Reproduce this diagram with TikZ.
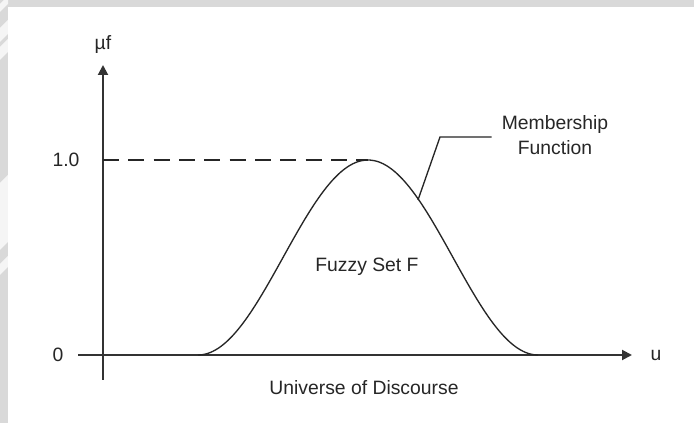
\documentclass[tikz,border=0pt]{standalone}
\usepackage{fontspec}
\setmainfont{Liberation Sans}
\usetikzlibrary{arrows.meta}

\tikzset{
  axis/.style={line width=1.5pt, draw=black!80, -{Triangle[length=7.5pt,width=7.5pt]}},
  curve/.style={line width=1pt, draw=black!85},
  lbl/.style={font=\fontsize{14.5}{18.5}\selectfont, text=black!85, inner sep=0pt},
  streak/.style={fill=black!4},
}

\begin{document}
\begin{tikzpicture}[x=0.75pt,y=-0.75pt]
    \useasboundingbox (0,0) rectangle (694,423);
    \fill[black!15] (0,0) rectangle (694,423);
    % light streaks in the frame
    \foreach \ya/\yb in {12/4, 42/28, 60/47, 250/183, 275/264}
        \fill[streak] (0,\ya) -- (0,\yb) -- (8,\yb-8) -- (8,\ya-8) -- cycle;
    \fill[white] (8,7) rectangle (694,423);
    % axes
    \coordinate (ybot) at (103,380);
    \coordinate (ytop) at (103,65);
    \coordinate (xleft) at (78,355);
    \coordinate (xright) at (632,355);
    \draw[axis] (ybot) -- (ytop);
    \draw[axis] (xleft) -- (xright);
    \node[lbl] (mu) at (103,45) {µf};
    \node[lbl] (uu) at (656,355) {u};
    \node[lbl] (zero) at (58,355) {0};
    \node[lbl] (one) at (66,160) {1.0};
    % membership curve
    \coordinate (top) at (103,160);
    \coordinate (peak) at (368,160);
    \draw[curve, dash pattern=on 12pt off 7pt] (top) -- (peak);
    \draw[curve] plot[domain=-170:170, samples=80, smooth] ({368+\x}, {355-97.5*(1+cos(\x/170*180))});
    \node[lbl] (fset) at (367,267) {Fuzzy Set F};
    \node[lbl] (univ) at (364,388) {Universe of Discourse};
    % leader to the label
    \node[lbl, align=center] (mflbl) at (555,135) {Membership\\Function};
    \coordinate (mfpt) at (418,200);
    \coordinate (bend) at (440,137);
    \draw[curve] (mfpt) -- (bend) -- ([xshift=-7.5pt]mflbl.west |- bend);
\end{tikzpicture}
\end{document}
